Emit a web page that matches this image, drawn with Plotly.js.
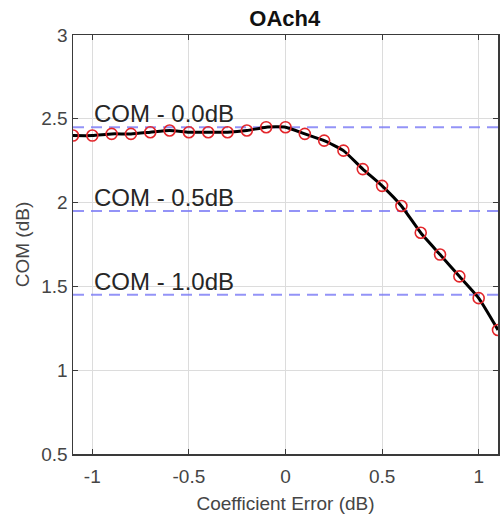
<!DOCTYPE html>
<html><head><meta charset="utf-8">
<script src="https://cdn.plot.ly/plotly-3.0.1.min.js"></script>
<style>html,body{margin:0;padding:0;background:#fff}#c{width:504px;height:516px}</style>
</head><body><div id="c"></div>
<script>
const coefErr = [-1.1,-1.0,-0.9,-0.8,-0.7,-0.6,-0.5,-0.4,-0.3,-0.2,-0.1,0.0,0.1,0.2,0.3,0.4,0.5,0.6,0.7,0.8,0.9,1.0,1.1];
const comVals = [2.40,2.40,2.41,2.41,2.42,2.43,2.42,2.42,2.42,2.43,2.45,2.45,2.41,2.37,2.31,2.20,2.10,1.98,1.82,1.69,1.56,1.43,1.24];
const refLevels = [2.45,1.95,1.45];
const refLabels = ["COM - 0.0dB","COM - 0.5dB","COM - 1.0dB"];
const xTicks = [-1,-0.5,0,0.5,1];
const xTickText = ["-1","-0.5","0","0.5","1"];
const yTicks = [0.5,1,1.5,2,2.5,3];
const yTickText = ["0.5","1","1.5","2","2.5","3"];
const xRange = [-1.1,1.1];

const traces = [];
refLevels.forEach(v => {
  traces.push({x: xRange, y: [v, v], mode: 'lines', hoverinfo: 'skip',
    line: {color: 'rgba(120,120,245,0.8)', width: 2, dash: '11px,7px'}});
});
traces.push({x: coefErr, y: comVals, mode: 'lines', line: {color: '#000', width: 3, shape: 'spline', smoothing: 0.5}});
traces.push({x: coefErr, y: comVals, mode: 'markers',
  marker: {symbol: 'circle-open', size: 11, color: '#e3262b', line: {width: 1.6, color: '#e3262b'}}});

const annotations = refLevels.map((v, i) => ({
  x: -1.0, y: v, xref: 'x', yref: 'y', text: refLabels[i], showarrow: false,
  xanchor: 'left', yanchor: 'bottom', yshift: -2,
  font: {family: 'Liberation Sans, Arial, sans-serif', size: 24, color: '#262626'}
}));

const axisCommon = {
  showline: true, linecolor: '#3a3a3a', linewidth: 1.5, mirror: 'ticks',
  ticks: 'inside', ticklen: 5, tickcolor: '#3a3a3a', tickwidth: 1,
  showgrid: true, gridcolor: '#dcdcdc', gridwidth: 1, zeroline: false,
  tickfont: {family: 'Liberation Sans, Arial, sans-serif', size: 19, color: '#454545'}
};

const layout = {
  width: 504, height: 516, showlegend: false,
  paper_bgcolor: '#fff', plot_bgcolor: '#fff',
  margin: {l: 73, r: 6, t: 35, b: 62},
  title: {text: '<b>OAch4</b>', x: 0.565, xanchor: 'center', y: 0.965, yanchor: 'middle',
    font: {family: 'Liberation Sans, Arial, sans-serif', size: 22, color: '#111'}},
  xaxis: Object.assign({}, axisCommon, {range: xRange, tickvals: xTicks, ticktext: xTickText,
    ticklabelstandoff: 5,
    title: {text: 'Coefficient Error (dB)', standoff: 10,
      font: {family: 'Liberation Sans, Arial, sans-serif', size: 19, color: '#454545'}}}),
  yaxis: Object.assign({}, axisCommon, {range: [0.5, 3], tickvals: yTicks, ticktext: yTickText,
    title: {text: 'COM (dB)', standoff: 6,
      font: {family: 'Liberation Sans, Arial, sans-serif', size: 19, color: '#454545'}}}),
  annotations: annotations
};

Plotly.newPlot('c', traces, layout, {staticPlot: true, displayModeBar: false});
</script></body></html>
